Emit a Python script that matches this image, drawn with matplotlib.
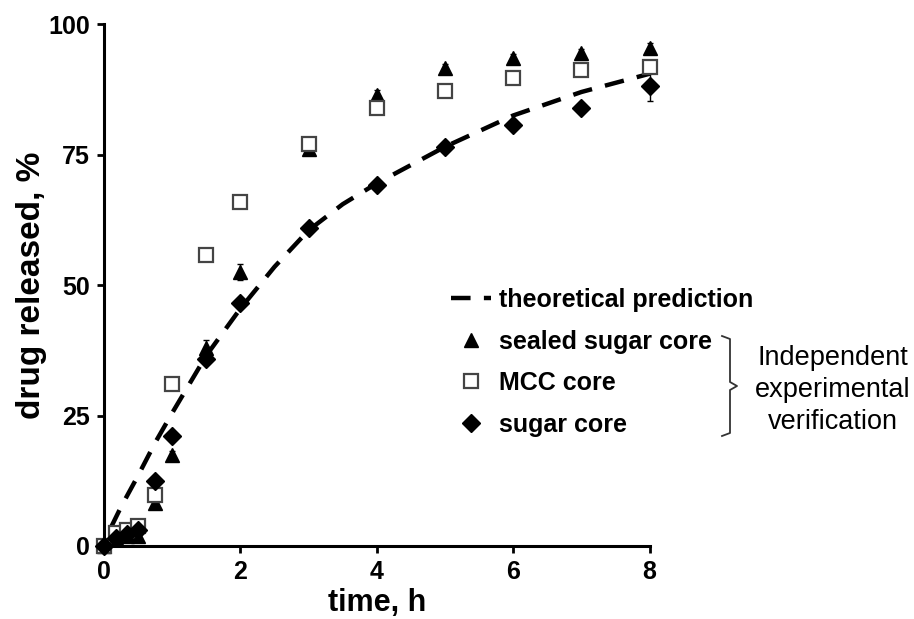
import matplotlib
matplotlib.use('Agg')
import matplotlib.pyplot as plt
from matplotlib.lines import Line2D

plt.rcParams['font.family'] = ['Liberation Sans', 'DejaVu Sans']

# time points, h
t = [0, 0.17, 0.33, 0.5, 0.75, 1, 1.5, 2, 3, 4, 5, 6, 7, 8]

# drug released, %
sealed_sugar = [0, 1.5, 2, 2, 8.2, 17.4, 38, 52.5, 76, 86.5, 91.5, 93.5, 94.5, 95.5]
mcc_core = [0, 2.5, 3, 3.8, 9.8, 31, 55.8, 66, 77, 84, 87.2, 89.6, 91.2, 91.8]
sugar_core = [0, 1.5, 2.2, 3, 12.5, 21, 35.8, 46.6, 61, 69.2, 76.5, 80.6, 84, 88.2]
sugar_err = [0, 0.5, 0.5, 0.5, 0.5, 0.5, 0.8, 0.8, 0.8, 0.8, 0.8, 0.8, 0.8, 3]
sealed_err = [0, 0.5, 0.5, 0.5, 0.5, 0.8, 1.5, 1.5, 0.8, 0.8, 0.8, 0.8, 0.8, 0.8]

# theoretical prediction
t_model = [0.1, 0.25, 0.5, 0.75, 1, 1.5, 2, 2.5, 3, 3.5, 4, 5, 6, 7, 8]
y_model = [3.5, 7.5, 13.5, 19.8, 25.5, 36.5, 45.5, 53.5, 60.5, 65.5, 69.5, 76.5, 82.5, 87, 90.5]

fig = plt.figure(figsize=(9.14, 6.19), dpi=100)
ax = fig.add_axes([0.1138, 0.118, 0.597, 0.843])

line_model, = ax.plot(t_model, y_model, color='black', lw=3.2, dashes=(4.4, 3),
                      label='theoretical prediction')
ax.errorbar(t, sealed_sugar, yerr=sealed_err, fmt='none', ecolor='black', elinewidth=1,
            capsize=2, clip_on=False)
ax.errorbar(t, sugar_core, yerr=sugar_err, fmt='none', ecolor='black', elinewidth=1,
            capsize=2, clip_on=False)
h1, = ax.plot(t, sealed_sugar, '^', color='black', ms=10.5, ls='none', clip_on=False,
              label='sealed sugar core')
h2, = ax.plot(t, mcc_core, 's', mfc='white', mec='#444444', mew=1.6, ms=10.5, ls='none',
              clip_on=False, label='MCC core')
h3, = ax.plot(t, sugar_core, 'D', color='black', ms=9, ls='none', clip_on=False,
              label='sugar core')

ax.set_xlim(0, 8)
ax.set_ylim(0, 100)
ax.set_xticks([0, 2, 4, 6, 8])
ax.set_yticks([0, 25, 50, 75, 100])
for s in ['top', 'right']:
    ax.spines[s].set_visible(False)
for s in ['left', 'bottom']:
    ax.spines[s].set_linewidth(2.2)
ax.tick_params(direction='out', length=5, width=2, labelsize=18, pad=5)
for lab in ax.get_xticklabels() + ax.get_yticklabels():
    lab.set_fontweight('bold')

ax.set_xlabel('time, h', fontsize=22, fontweight='bold', labelpad=3)
ax.set_ylabel('drug released, %', fontsize=24, fontweight='bold', labelpad=1)

leg = fig.legend(handles=[line_model, h1, h2, h3], loc='upper left',
                 bbox_to_anchor=(0.469, 0.571), frameon=False, fontsize=18,
                 handlelength=1.6, handletextpad=0.3, labelspacing=0.7)
for txt in leg.get_texts():
    txt.set_fontweight('bold')

# bracket grouping the experimental series
bx = [722, 730, 730, 737, 730, 730, 722]
by = [336, 339, 382, 386, 390, 433, 436]
fig.add_artist(Line2D([x / 914 for x in bx], [1 - y / 619 for y in by],
                      transform=fig.transFigure, color='#333333', lw=1.3))
fig.text(0.911, 1 - 390 / 619, 'Independent\nexperimental\nverification', ha='center',
         va='center', fontsize=19.5, linespacing=1.3)

fig.savefig('out.png', dpi=100)
